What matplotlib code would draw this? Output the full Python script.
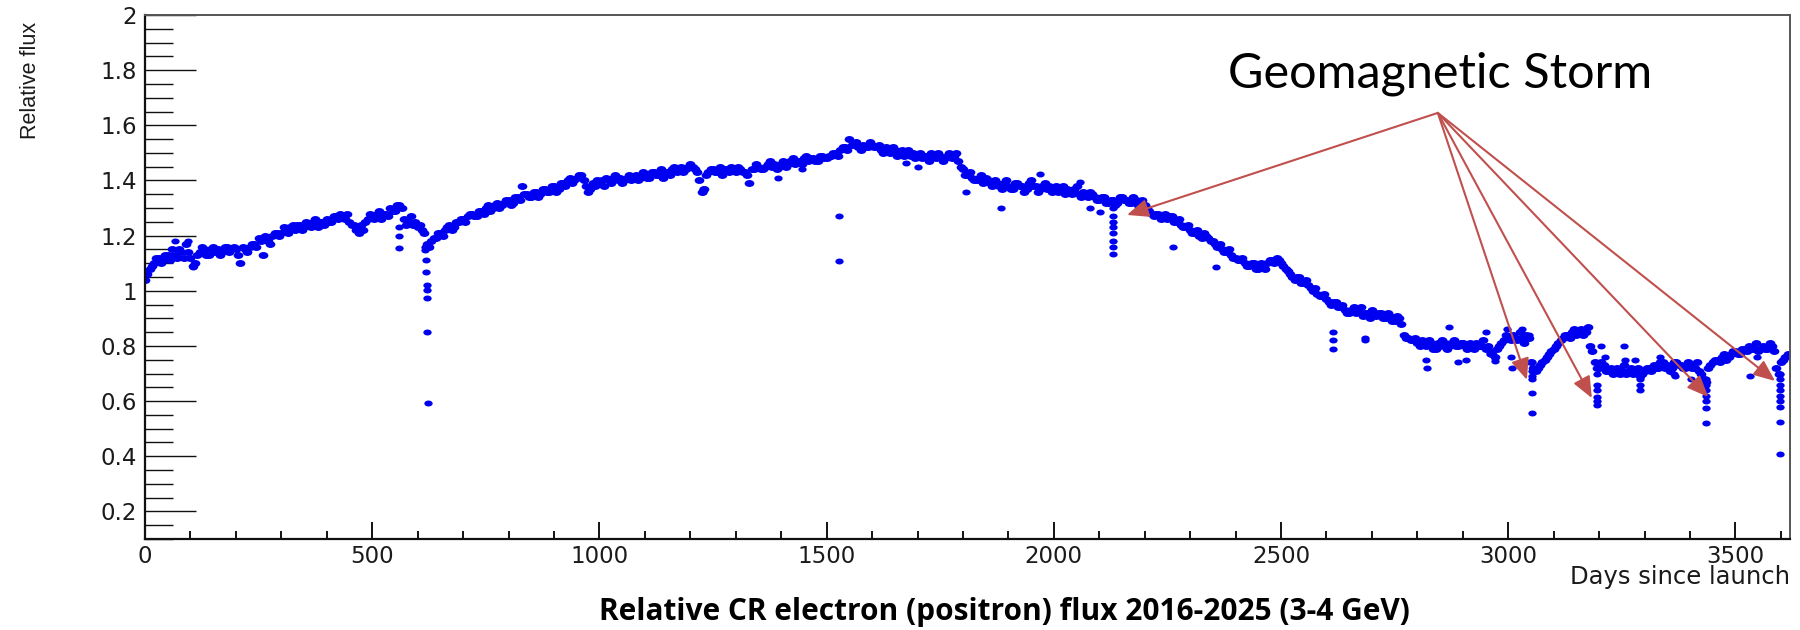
import numpy as np
import matplotlib
matplotlib.use("Agg")
import matplotlib.pyplot as plt
from matplotlib.path import Path
from matplotlib.transforms import Affine2D
from matplotlib.ticker import MultipleLocator

# relative flux, one value every 10 days since launch (days 0, 10, 20, ...)
flux = [
    1.04, 1.08, 1.10, 1.12, 1.11, 1.13, 1.15, 1.12, 1.14, 1.17,
    1.12, 1.10, 1.14, 1.15, 1.13, 1.16, 1.15, 1.14, 1.16, 1.15,
    1.15, 1.10, 1.15, 1.16, 1.17, 1.19, 1.13, 1.18, 1.20, 1.21,
    1.21, 1.22, 1.23, 1.22, 1.24, 1.23, 1.24, 1.25, 1.23, 1.25,
    1.26, 1.25, 1.27, 1.28, 1.26, 1.25, 1.24, 1.21, 1.22, 1.26,
    1.27, 1.28, 1.26, 1.28, 1.30, 1.29, 1.31, 1.26, 1.25, 1.24,
    1.23, 1.22, 1.17, 1.18, 1.19, 1.21, 1.22, 1.24, 1.23, 1.25,
    1.26, 1.27, 1.28, 1.27, 1.29, 1.30, 1.29, 1.31, 1.30, 1.32,
    1.33, 1.32, 1.34, 1.38, 1.35, 1.34, 1.36, 1.35, 1.37, 1.36,
    1.38, 1.37, 1.39, 1.40, 1.39, 1.41, 1.42, 1.38, 1.37, 1.38,
    1.39, 1.38, 1.40, 1.41, 1.40, 1.39, 1.41, 1.40, 1.42, 1.41,
    1.42, 1.41, 1.43, 1.42, 1.41, 1.43, 1.44, 1.43, 1.45, 1.44,
    1.46, 1.44, 1.40, 1.37, 1.43, 1.44, 1.43, 1.42, 1.44, 1.45,
    1.43, 1.44, 1.43, 1.39, 1.44, 1.45, 1.44, 1.46, 1.45, 1.44,
    1.46, 1.45, 1.47, 1.46, 1.47, 1.48, 1.47, 1.48, 1.47, 1.49,
    1.48, 1.49, 1.50, 1.51, 1.52, 1.55, 1.53, 1.52, 1.53, 1.52,
    1.53, 1.52, 1.51, 1.52, 1.50, 1.51, 1.50, 1.49, 1.51, 1.50,
    1.49, 1.48, 1.49, 1.50, 1.48, 1.49, 1.48, 1.50, 1.49, 1.47,
    1.44, 1.42, 1.41, 1.40, 1.42, 1.41, 1.39, 1.40, 1.38, 1.39,
    1.38, 1.37, 1.39, 1.38, 1.37, 1.40, 1.38, 1.37, 1.39, 1.38,
    1.37, 1.36, 1.38, 1.37, 1.35, 1.38, 1.34, 1.35, 1.36, 1.34,
    1.33, 1.34, 1.32, 1.33, 1.32, 1.34, 1.33, 1.32, 1.33, 1.32,
    1.31, 1.29, 1.27, 1.28, 1.27, 1.26, 1.27, 1.25, 1.24, 1.23,
    1.22, 1.21, 1.20, 1.21, 1.19, 1.18, 1.16, 1.15, 1.14, 1.13,
    1.12, 1.11, 1.10, 1.09, 1.10, 1.08, 1.09, 1.10, 1.11, 1.12,
    1.10, 1.08, 1.06, 1.04, 1.05, 1.03, 1.02, 1.00, 0.99, 0.98,
    0.97, 0.95, 0.96, 0.94, 0.93, 0.92, 0.94, 0.93, 0.91, 0.92,
    0.93, 0.91, 0.92, 0.90, 0.91, 0.89, 0.90, 0.84, 0.83, 0.82,
    0.81, 0.82, 0.80, 0.81, 0.79, 0.80, 0.81, 0.80, 0.82, 0.80,
    0.81, 0.79, 0.80, 0.81, 0.80, 0.79, 0.78, 0.76, 0.80, 0.82,
    0.83, 0.84, 0.82, 0.83, 0.84, 0.74, 0.71, 0.73, 0.75, 0.77,
    0.79, 0.81, 0.83, 0.84, 0.85, 0.84, 0.86, 0.85, 0.80, 0.74,
    0.72, 0.73, 0.71, 0.70, 0.72, 0.71, 0.70, 0.72, 0.71, 0.69,
    0.71, 0.72, 0.73, 0.72, 0.74, 0.73, 0.72, 0.74, 0.73, 0.72,
    0.73, 0.72, 0.71, 0.68, 0.72, 0.74, 0.75, 0.76, 0.75, 0.77,
    0.78, 0.77, 0.79, 0.80, 0.79, 0.78, 0.80, 0.79, 0.80, 0.72,
    0.74, 0.76,
]
# the in-between days (5, 15, 25, ...)
flux_mid = [
    1.06, 1.09, 1.12, 1.10, 1.13, 1.11, 1.13, 1.15, 1.12, 1.14,
    1.09, 1.13, 1.16, 1.13, 1.15, 1.14, 1.13, 1.16, 1.14, 1.16,
    1.13, 1.16, 1.14, 1.17, 1.16, 1.18, 1.20, 1.17, 1.21, 1.20,
    1.23, 1.21, 1.24, 1.24, 1.22, 1.25, 1.23, 1.26, 1.25, 1.24,
    1.25, 1.27, 1.26, 1.27, 1.28, 1.24, 1.22, 1.24, 1.25, 1.28,
    1.26, 1.29, 1.28, 1.27, 1.29, 1.31, 1.30, 1.24, 1.27, 1.25,
    1.24, 1.21, 1.16, 1.19, 1.21, 1.20, 1.23, 1.22, 1.25, 1.26,
    1.25, 1.28, 1.27, 1.29, 1.28, 1.31, 1.30, 1.32, 1.31, 1.33,
    1.31, 1.34, 1.33, 1.35, 1.34, 1.36, 1.34, 1.37, 1.36, 1.38,
    1.36, 1.39, 1.38, 1.41, 1.40, 1.42, 1.40, 1.36, 1.39, 1.40,
    1.40, 1.41, 1.39, 1.42, 1.41, 1.40, 1.42, 1.41, 1.40, 1.43,
    1.41, 1.43, 1.42, 1.44, 1.43, 1.42, 1.45, 1.44, 1.43, 1.45,
    1.45, 1.43, 1.36, 1.42, 1.44, 1.43, 1.45, 1.44, 1.43, 1.44,
    1.45, 1.43, 1.42, 1.44, 1.46, 1.44, 1.45, 1.47, 1.46, 1.45,
    1.47, 1.46, 1.48, 1.47, 1.46, 1.49, 1.48, 1.47, 1.49, 1.48,
    1.49, 1.50, 1.49, 1.52, 1.51, 1.53, 1.54, 1.51, 1.52, 1.54,
    1.52, 1.53, 1.50, 1.51, 1.52, 1.49, 1.51, 1.50, 1.49, 1.48,
    1.50, 1.49, 1.47, 1.49, 1.50, 1.47, 1.49, 1.48, 1.50, 1.45,
    1.42, 1.43, 1.40, 1.41, 1.39, 1.40, 1.38, 1.39, 1.37, 1.40,
    1.37, 1.39, 1.38, 1.36, 1.39, 1.38, 1.36, 1.38, 1.37, 1.36,
    1.38, 1.37, 1.35, 1.36, 1.37, 1.35, 1.36, 1.34, 1.35, 1.33,
    1.34, 1.32, 1.33, 1.31, 1.34, 1.33, 1.32, 1.34, 1.31, 1.33,
    1.30, 1.28, 1.28, 1.26, 1.28, 1.27, 1.25, 1.26, 1.23, 1.24,
    1.21, 1.22, 1.19, 1.20, 1.18, 1.17, 1.17, 1.14, 1.15, 1.12,
    1.11, 1.12, 1.09, 1.10, 1.08, 1.10, 1.08, 1.11, 1.10, 1.11,
    1.09, 1.07, 1.05, 1.05, 1.03, 1.04, 1.01, 1.01, 0.98, 0.99,
    0.96, 0.96, 0.94, 0.95, 0.92, 0.93, 0.92, 0.94, 0.92, 0.90,
    0.92, 0.92, 0.90, 0.92, 0.89, 0.91, 0.88, 0.83, 0.82, 0.83,
    0.80, 0.81, 0.82, 0.79, 0.81, 0.82, 0.79, 0.81, 0.80, 0.81,
    0.80, 0.81, 0.79, 0.80, 0.82, 0.80, 0.77, 0.79, 0.81, 0.84,
    0.82, 0.83, 0.85, 0.81, 0.83, 0.72, 0.72, 0.74, 0.76, 0.78,
    0.80, 0.82, 0.84, 0.83, 0.86, 0.85, 0.84, 0.87, 0.78, 0.72,
    0.74, 0.71, 0.72, 0.71, 0.70, 0.73, 0.71, 0.70, 0.72, 0.70,
    0.72, 0.71, 0.72, 0.74, 0.72, 0.71, 0.74, 0.73, 0.72, 0.74,
    0.72, 0.74, 0.70, 0.67, 0.73, 0.75, 0.74, 0.77, 0.76, 0.78,
    0.77, 0.79, 0.78, 0.79, 0.81, 0.79, 0.79, 0.81, 0.78, 0.70,
    0.75, 0.77,
]
days = 10 * np.arange(len(flux))
days_mid = 10 * np.arange(len(flux_mid)) + 5

# single-day drops (storms and isolated low points)
drop_days = [560, 560, 560,
             616, 617, 618, 619, 620, 620, 621, 621, 622,
             1227, 1228, 1528, 1528, 1806,
             2131, 2131, 2131, 2131, 2131, 2131, 2131, 2131,
             2614, 2614, 2614, 2685, 2685,
             3052, 3052, 3052, 3052, 3052, 3052,
             3195, 3195, 3195, 3195, 3195, 3195,
             3290, 3290, 3290,
             3436, 3436, 3436, 3436, 3436, 3436, 3436,
             3598, 3598, 3598, 3598, 3598, 3598, 3598, 3598, 3598]
drop_flux = [1.23, 1.20, 1.155,
             1.16, 1.148, 1.11, 1.068, 1.02, 1.003, 0.974, 0.85, 0.593,
             1.37, 1.36, 1.27, 1.108, 1.36,
             1.30, 1.27, 1.25, 1.23, 1.21, 1.18, 1.16, 1.135,
             0.85, 0.82, 0.79, 0.83, 0.82,
             0.74, 0.71, 0.69, 0.68, 0.63, 0.557,
             0.70, 0.66, 0.64, 0.615, 0.60, 0.585,
             0.68, 0.66, 0.64,
             0.68, 0.66, 0.64, 0.62, 0.60, 0.575, 0.52,
             0.70, 0.68, 0.66, 0.64, 0.62, 0.60, 0.58, 0.525, 0.41]

# stray points above / below the main band
stray_days = [66, 95, 106, 1393, 1446, 1675, 1702,
              1883, 1970, 2057, 2079, 2101, 2262, 2357,
              2820, 2822, 2870, 2889, 2907, 2951, 2960, 2970, 2997, 3005, 3008,
              3030, 3045, 3205, 3212, 3254, 3256, 3280, 3335, 3364, 3366, 3403,
              3532, 3547]
stray_flux = [1.18, 1.18, 1.085, 1.41, 1.44, 1.465, 1.45,
              1.30, 1.425, 1.395, 1.30, 1.285, 1.16, 1.085,
              0.75, 0.72, 0.87, 0.74, 0.75, 0.85, 0.77, 0.745, 0.86, 0.76, 0.72,
              0.86, 0.84, 0.80, 0.76, 0.80, 0.75, 0.75, 0.76, 0.70, 0.69, 0.68,
              0.69, 0.76]

storm_days = [2161, 3041, 3184, 3440, 3587]
storm_flux = [1.275, 0.677, 0.611, 0.615, 0.673]
label_day, label_flux = 2845, 1.645

yticks = [0.2, 0.4, 0.6, 0.8, 1.0, 1.2, 1.4, 1.6, 1.8, 2.0]
ylabels = ["0.2", "0.4", "0.6", "0.8", "1", "1.2", "1.4", "1.6", "1.8", "2"]
xticks = [0, 500, 1000, 1500, 2000, 2500, 3000, 3500]

blob = Path.unit_circle().transformed(Affine2D().scale(1.4, 1.0))
blue = "#0000f0"

fig = plt.figure(figsize=(18, 6.3), dpi=100)
ax = fig.add_axes([145 / 1800, 91 / 630, 1645 / 1800, 524 / 630])

ax.plot(days, flux, ls="none", marker=blob, ms=7, color=blue, mec="none")
ax.plot(days_mid, flux_mid, ls="none", marker=blob, ms=7, color=blue, mec="none")
ax.plot(drop_days, drop_flux, ls="none", marker=blob, ms=6, color=blue, mec="none")
ax.plot(stray_days, stray_flux, ls="none", marker=blob, ms=6, color=blue, mec="none")

ax.set_xlim(0, 3620)
ax.set_ylim(0.1, 2.0)

for s in ["left", "bottom"]:
    ax.spines[s].set_linewidth(1.6)
    ax.spines[s].set_color("#111111")
for s in ["top", "right"]:
    ax.spines[s].set_linewidth(1.4)
    ax.spines[s].set_color("#555555")

ax.set_yticks(yticks)
ax.set_yticklabels(ylabels)
ax.set_xticks(xticks)
ax.xaxis.set_minor_locator(MultipleLocator(100))
ax.yaxis.set_minor_locator(MultipleLocator(0.05))
ax.tick_params(axis="y", which="major", direction="in", length=37, width=1.0, pad=6,
               labelsize=16.5, labelcolor="#1a1a1a", color="#111111")
ax.tick_params(axis="y", which="minor", direction="in", length=20, width=1.0, color="#111111")
ax.tick_params(axis="x", which="major", direction="in", length=12, width=1.4, pad=4,
               labelsize=16.5, labelcolor="#1a1a1a", color="#111111")
ax.tick_params(axis="x", which="minor", direction="in", length=6, width=1.4, color="#111111")
for lab in ax.get_xticklabels() + ax.get_yticklabels():
    lab.set_family("DejaVu Sans")

fig.text(30 / 1800, 1 - 80 / 630, "Relative flux", rotation=90, ha="center", va="center",
         fontsize=15.5, color="#1a1a1a", family=["Liberation Sans Narrow", "Liberation Sans"])
fig.text(1790 / 1800, 1 - 584 / 630, "Days since launch", ha="right", va="baseline",
         fontsize=17.5, color="#1a1a1a", family="DejaVu Sans")
fig.text(1004 / 1800, 1 - 620 / 630, "Relative CR electron (positron) flux 2016-2025 (3-4 GeV)",
         ha="center", va="baseline", fontsize=21.5, fontweight="bold", family="Open Sans")

fig.text(0.682, 1 - 88 / 630, "Geomagnetic Storm", ha="left", va="baseline",
         fontsize=35, family="Lato")

for d, f in zip(storm_days, storm_flux):
    ax.annotate("", xy=(d, f), xytext=(label_day, label_flux),
                arrowprops=dict(arrowstyle="-|>,head_length=13,head_width=5.5",
                                mutation_scale=1, color="#c0504d", lw=1.5,
                                shrinkA=0, shrinkB=0))

plt.savefig("out.png", dpi=100)
